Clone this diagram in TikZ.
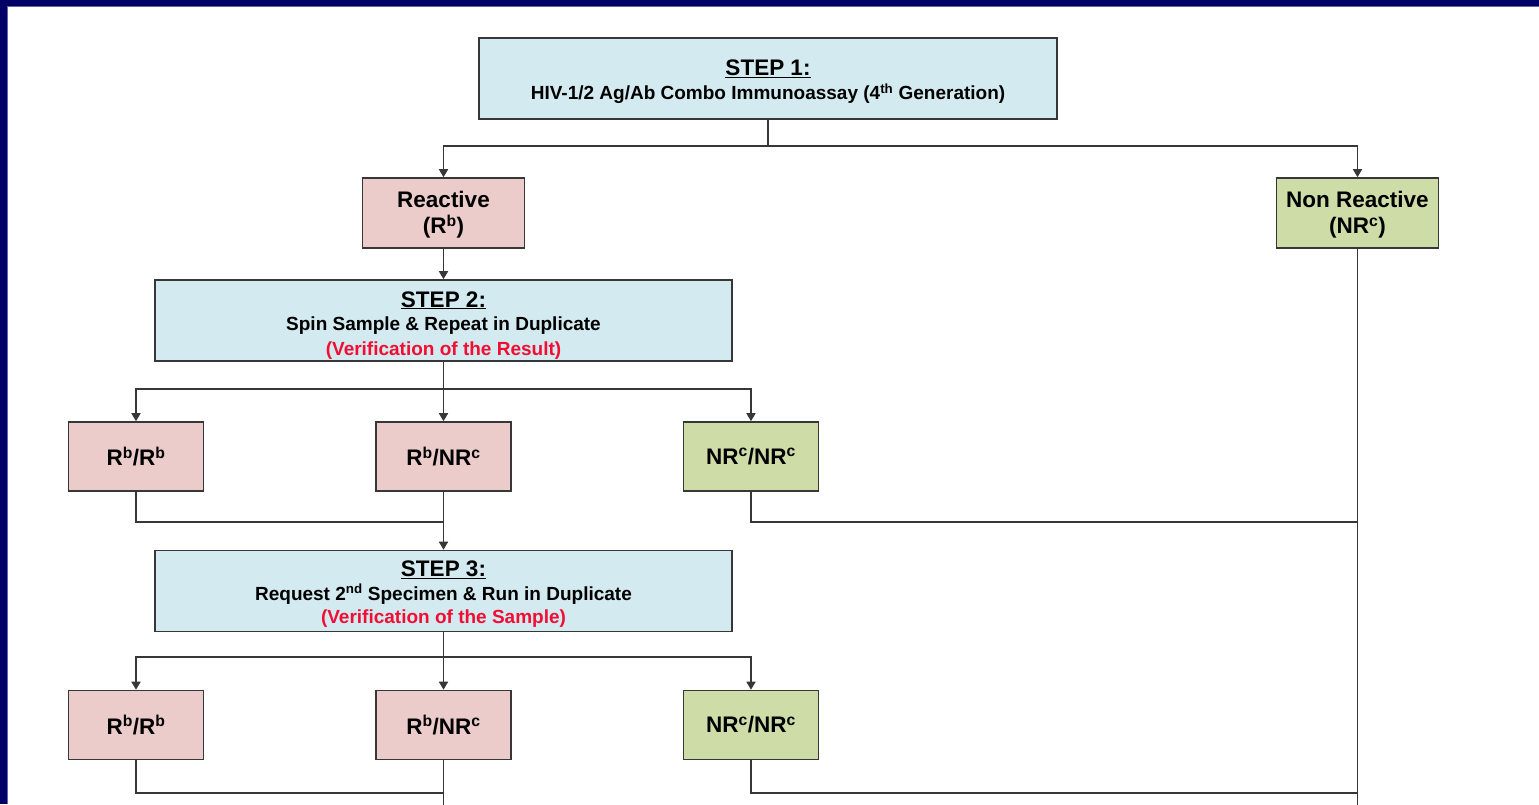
\documentclass[tikz,border=0pt]{standalone}
\usepackage{fontspec}
\setmainfont{Liberation Sans}
\usetikzlibrary{arrows.meta}

\begin{document}
\begin{tikzpicture}[x=1pt,y=1pt,yscale=-1,xscale=1,
  box/.style={draw={rgb,255:red,55;green,55;blue,55}, line width=1.6pt, inner sep=0pt, align=center},
  stepbox/.style={box, fill={rgb,255:red,210;green,234;blue,240}, minimum width=577pt, minimum height=81pt, font=\bfseries\fontsize{19}{24.5}\selectfont},
  rbox/.style={box, fill={rgb,255:red,235;green,204;blue,203}, font=\bfseries\fontsize{22.5}{26}\selectfont},
  nbox/.style={box, fill={rgb,255:red,206;green,221;blue,168}, font=\bfseries\fontsize{22.5}{26}\selectfont},
  smallbox/.style={minimum width=135pt, minimum height=69pt},
  midbox/.style={minimum width=162pt, minimum height=70pt},
  conn/.style={draw={rgb,255:red,55;green,55;blue,55}, line width=1.6pt},
  arr/.style={conn, -{Triangle[length=8pt,width=9pt]}}
]
\useasboundingbox (0,0) rectangle (1539,804);

%Frame
\fill[color={rgb,255:red,0;green,0;blue,102}] (0,0) rectangle (1539,6);
\fill[color={rgb,255:red,0;green,0;blue,102}] (0,0) rectangle (7.3,804);
\fill[color={rgb,255:red,100;green,100;blue,175}] (7.3,6) rectangle (1539,7);
\fill[color={rgb,255:red,100;green,100;blue,175}] (7.3,6) rectangle (8.3,804);

%Shape: Rectangle
\node[stepbox, minimum width=578pt] (step1) at (768,78.5) {{\fontsize{22.5}{25}\selectfont\rule{0pt}{22pt}\underline{STEP 1:}}\\[-0.5pt]HIV-1/2 Ag/Ab Combo Immunoassay (4\textsuperscript{th} Generation)};
%Shape: Rectangle
\node[rbox, midbox] (react) at (443.5,213) {\rule{0pt}{20pt}Reactive\\(R\textsuperscript{b})};
%Shape: Rectangle
\node[nbox, midbox] (nonreact) at (1357.5,213) {\rule{0pt}{20pt}Non Reactive\\(NR\textsuperscript{c})};
%Shape: Rectangle
\node[stepbox] (step2) at (443.5,320.5) {{\fontsize{22.5}{25}\selectfont\rule{0pt}{25pt}\underline{STEP 2:}}\\[-1pt]Spin Sample \& Repeat in Duplicate\\\textcolor[rgb]{0.95,0.05,0.2}{(Verification of the Result)}};
%Shape: Rectangle
\node[rbox, smallbox] (rr1) at (136,456.5) {R\textsuperscript{b}/R\textsuperscript{b}};
\node[rbox, smallbox] (rnr1) at (443.5,456.5) {R\textsuperscript{b}/NR\textsuperscript{c}};
\node[nbox, smallbox] (nn1) at (751,456.5) {NR\textsuperscript{c}/NR\textsuperscript{c}};
%Shape: Rectangle
\node[stepbox] (step3) at (443.5,591) {{\fontsize{22.5}{25}\selectfont\rule{0pt}{22pt}\underline{STEP 3:}}\\[-1pt]Request 2\textsuperscript{nd} Specimen \& Run in Duplicate\\[-1pt]\textcolor[rgb]{0.95,0.05,0.2}{(Verification of the Sample)}};
%Shape: Rectangle
\node[rbox, smallbox] (rr2) at (136,725) {R\textsuperscript{b}/R\textsuperscript{b}};
\node[rbox, smallbox] (rnr2) at (443.5,725) {R\textsuperscript{b}/NR\textsuperscript{c}};
\node[nbox, smallbox] (nn2) at (751,725) {NR\textsuperscript{c}/NR\textsuperscript{c}};

\coordinate (j1) at (768,146);
\coordinate (j2) at (443.5,389);
\coordinate (j3) at (443.5,522);
\coordinate (j4) at (443.5,657);
\coordinate (j5) at (443.5,793);
\coordinate (bot) at (1357.5,806);

%Straight Lines
\draw[conn] (step1) -- (j1);
\draw[arr] (j1) -| (react);
\draw[arr] (j1) -| (nonreact);
\draw[conn] (nonreact) -- (nonreact |- bot);
\draw[arr] (react) -- (step2);
%Straight Lines
\draw[conn] (step2) -- (j2);
\foreach \n in {rr1,rnr1,nn1} \draw[arr] (j2) -| (\n);
\draw[conn] (rr1) |- (j3);
\draw[arr] (rnr1) -- (step3);
\draw[conn] (nn1) |- (nonreact |- j3);
%Straight Lines
\draw[conn] (step3) -- (j4);
\foreach \n in {rr2,rnr2,nn2} \draw[arr] (j4) -| (\n);
\draw[conn] (rr2) |- (j5);
\draw[conn] (rnr2) -- (rnr2 |- bot);
\draw[conn] (nn2) |- (nonreact |- j5);

\end{tikzpicture}
\end{document}
